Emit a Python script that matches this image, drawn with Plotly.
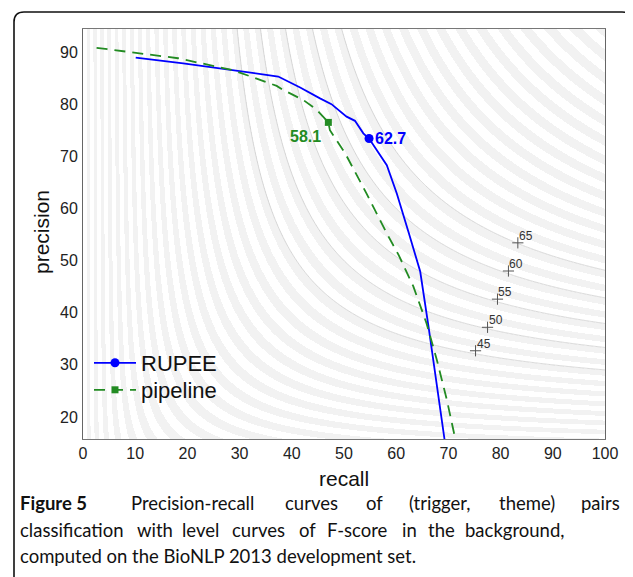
import numpy as np
import plotly.graph_objects as go

# ---------------- data ----------------
rupee_recall = [10.1, 19.2, 37.4, 41.6, 45.4, 47.6, 50.5, 52.1, 53.7, 54.8, 58.2, 60.1, 62.5, 64.6, 66.2, 67.1, 67.8, 69.5]
rupee_precision = [88.9, 87.8, 85.3, 83.2, 81.1, 80.0, 77.6, 76.8, 74.4, 73.4, 68.3, 62.9, 55.0, 47.9, 37.3, 30.9, 26.5, 14.0]
rupee_best = 9
rupee_best_label = "62.7"

pipe_recall = [2.6, 18.2, 28.8, 37.1, 38.4, 42.2, 44.8, 47.0, 47.3, 50.2, 54.3, 58.2, 60.5, 63.3, 65.8, 67.8, 69.7, 71.6]
pipe_precision = [90.8, 88.8, 86.5, 83.5, 82.7, 80.8, 78.9, 76.5, 75.0, 70.6, 62.9, 55.2, 51.0, 45.0, 38.0, 30.9, 23.3, 14.5]
pipe_best = 7
pipe_best_label = "58.1"

level_recall = [75.2, 77.5, 79.4, 81.5, 83.3]
level_precision = [32.7, 37.2, 42.6, 48.0, 53.4]
level_labels = ["45", "50", "55", "60", "65"]

x_ticks = [0, 10, 20, 30, 40, 50, 60, 70, 80, 90, 100]
y_ticks = [20, 30, 40, 50, 60, 70, 80, 90]

caption_line1 = ["Figure 5", "Precision-recall", "curves", "of", "(trigger,", "theme)", "pairs"]
caption_line2 = ["classification", "with", "level", "curves", "of", "F-score", "in", "the", "background,"]
caption_line3 = "computed on the BioNLP 2013 development set."

# ---------------- layout geometry ----------------
OFF = 8                      # page body margin
W, H = 625, 569
ML, MT, PW, PH = 75, 21, 522, 410
MR, MB = W - ML - PW, H - MT - PH
XR = [0, 100]
YR = [15.78, 94.41]


def px(x):   # reference screen pixel -> paper
    return (x - OFF - ML) / PW


def py(y):
    return (MT + PH - (y - OFF)) / PH


# F-score background
gx = np.linspace(XR[0], XR[1], PW + 1)
gy = np.linspace(YR[0], YR[1], PH + 1)
GX, GY = np.meshgrid(gx, gy)
F = 2 * GX * GY / np.maximum(GX + GY, 1e-9)
band = (np.floor(F / 1.25) % 2).astype(np.int8)

cx = np.linspace(0.05, 100, 400)
cy = np.linspace(15, 95, 320)
CX, CY = np.meshgrid(cx, cy)
CF = 2 * CX * CY / (CX + CY)

fig = go.Figure()
fig.add_trace(go.Heatmap(x=gx, y=gy, z=band, colorscale=[[0, "#ffffff"], [1, "#f2f2f2"]],
                         showscale=False, hoverinfo="skip", zsmooth=False))
fig.add_trace(go.Contour(x=cx, y=cy, z=CF, contours=dict(start=45, end=65, size=5, coloring="lines"),
                         colorscale=[[0, "#c8c8c8"], [1, "#c8c8c8"]], line=dict(width=0.7),
                         showscale=False, hoverinfo="skip"))
fig.add_trace(go.Scatter(x=level_recall, y=level_precision, mode="markers",
                         marker=dict(symbol="cross-thin", size=8, line=dict(width=1, color="#555"), color="#555"),
                         showlegend=False, hoverinfo="skip", cliponaxis=False))

fig.add_trace(go.Scatter(x=rupee_recall, y=rupee_precision, mode="lines+markers", name="RUPEE",
                         line=dict(color="#0000ff", width=1.8),
                         marker=dict(symbol="circle", size=9, color="#0000ff"),
                         selectedpoints=[rupee_best],
                         selected=dict(marker=dict(opacity=1)),
                         unselected=dict(marker=dict(opacity=0)),
                         legend="legend"))
fig.add_trace(go.Scatter(x=pipe_recall, y=pipe_precision, mode="lines+markers", name="pipeline",
                         line=dict(color="#228b22", width=1.8, dash="11px,7px"),
                         marker=dict(symbol="square", size=7, color="#228b22"),
                         selectedpoints=[pipe_best],
                         selected=dict(marker=dict(opacity=1)),
                         unselected=dict(marker=dict(opacity=0)),
                         legend="legend2"))

annotations = [
    dict(x=rupee_recall[rupee_best], y=rupee_precision[rupee_best], text="<b>" + rupee_best_label + "</b>",
         xanchor="left", yanchor="middle", xshift=4, yshift=0, showarrow=False,
         font=dict(size=16, color="#0000ff", family="Liberation Sans")),
    dict(x=pipe_recall[pipe_best], y=pipe_precision[pipe_best], text="<b>" + pipe_best_label + "</b>",
         xanchor="right", yanchor="middle", xshift=-5, yshift=-14, showarrow=False,
         font=dict(size=16, color="#228b22", family="Liberation Sans")),
    dict(xref="paper", yref="paper", x=px(344), y=py(478), text="recall", showarrow=False,
         xanchor="center", yanchor="middle", font=dict(size=21, color="#111", family="Liberation Sans")),
    dict(xref="paper", yref="paper", x=px(41), y=py(232), text="precision", showarrow=False, textangle=-90,
         xanchor="center", yanchor="middle", font=dict(size=21, color="#111", family="Liberation Sans")),
]
for lx, ly, lab in zip(level_recall, level_precision, level_labels):
    annotations.append(dict(x=lx, y=ly, text=lab, showarrow=False, xanchor="left", yanchor="bottom",
                            xshift=-1, yshift=-2, font=dict(size=12, color="#333", family="Liberation Sans")))

# caption: first two lines spread word by word, last line natural
AW = {'a': 556, 'b': 556, 'c': 500, 'd': 556, 'e': 556, 'f': 278, 'g': 556, 'h': 556, 'i': 222, 'j': 222,
      'k': 500, 'l': 222, 'm': 833, 'n': 556, 'o': 556, 'p': 556, 'q': 556, 'r': 333, 's': 500, 't': 278,
      'u': 556, 'v': 500, 'w': 722, 'x': 500, 'y': 500, 'z': 500, ' ': 278, ',': 278, '.': 278, '-': 333,
      '(': 333, ')': 333, 'F': 611, 'P': 667}
CAP_SIZE, CAP_SCALE, BOLD_SCALE = 18.5, 1.0, 1.24


def est_w(word, bold=False):
    w = sum(AW.get(c, 556) for c in word) / 1000 * CAP_SIZE * CAP_SCALE
    return w * (BOLD_SCALE if bold else 1.0)


def justified(words, x0, x1, yref_px, bold_first=False):
    widths = [est_w(w, bold_first and i == 0) for i, w in enumerate(words)]
    gap = (x1 - x0 - sum(widths)) / (len(words) - 1)
    pos = x0
    for i, (w, ww) in enumerate(zip(words, widths)):
        txt = "<b>" + w + "</b>" if (bold_first and i == 0) else w
        last = i == len(words) - 1
        annotations.append(dict(xref="paper", yref="paper", x=px(x1 if last else pos), y=py(yref_px), text=txt,
                                showarrow=False, xanchor="right" if last else "left", yanchor="middle",
                                font=dict(size=CAP_SIZE, color="#111", family="Lato")))
        pos += ww + gap


justified(caption_line1, 18, 622, 503, bold_first=True)
justified(caption_line2, 18, 566, 530)
annotations.append(dict(xref="paper", yref="paper", x=px(18), y=py(556), text=caption_line3, showarrow=False,
                        xanchor="left", yanchor="middle", font=dict(size=CAP_SIZE, color="#111", family="Lato")))

# rounded outer frame
fx0, fx1, fy0, r = 14, 632, 12, 10
path = (f"M {px(fx0)},{py(600)} L {px(fx0)},{py(fy0 + r)} Q {px(fx0)},{py(fy0)} {px(fx0 + r)},{py(fy0)} "
        f"L {px(fx1 - r)},{py(fy0)} Q {px(fx1)},{py(fy0)} {px(fx1)},{py(fy0 + r)} L {px(fx1)},{py(600)}")

legend_common = dict(xanchor="left", yanchor="middle", bgcolor="rgba(0,0,0,0)",
                     font=dict(size=22, color="#111", family="Liberation Sans"), itemwidth=42)

fig.update_layout(
    width=W, height=H, margin=dict(l=ML, r=MR, t=MT, b=MB, autoexpand=False),
    paper_bgcolor="white", plot_bgcolor="white",
    font=dict(family="Liberation Sans", color="#222", size=16),
    xaxis=dict(range=XR, tickvals=x_ticks, showgrid=False, zeroline=False, showline=True, mirror=True,
               linecolor="#777", linewidth=1, ticks="", tickfont=dict(size=16, color="#222")),
    yaxis=dict(range=YR, tickvals=y_ticks, showgrid=False, zeroline=False, showline=True, mirror=True,
               linecolor="#666", linewidth=1, ticks="outside", ticklen=1, tickcolor="rgba(0,0,0,0)",
               tickfont=dict(size=16, color="#222")),
    legend=dict(x=px(89), y=py(363), **legend_common),
    legend2=dict(x=px(89), y=py(390), **legend_common),
    annotations=annotations,
    shapes=[dict(type="path", xref="paper", yref="paper", path=path, line=dict(color="#111", width=1.6),
                 layer="above")],
)

fig.write_html("out.html")
